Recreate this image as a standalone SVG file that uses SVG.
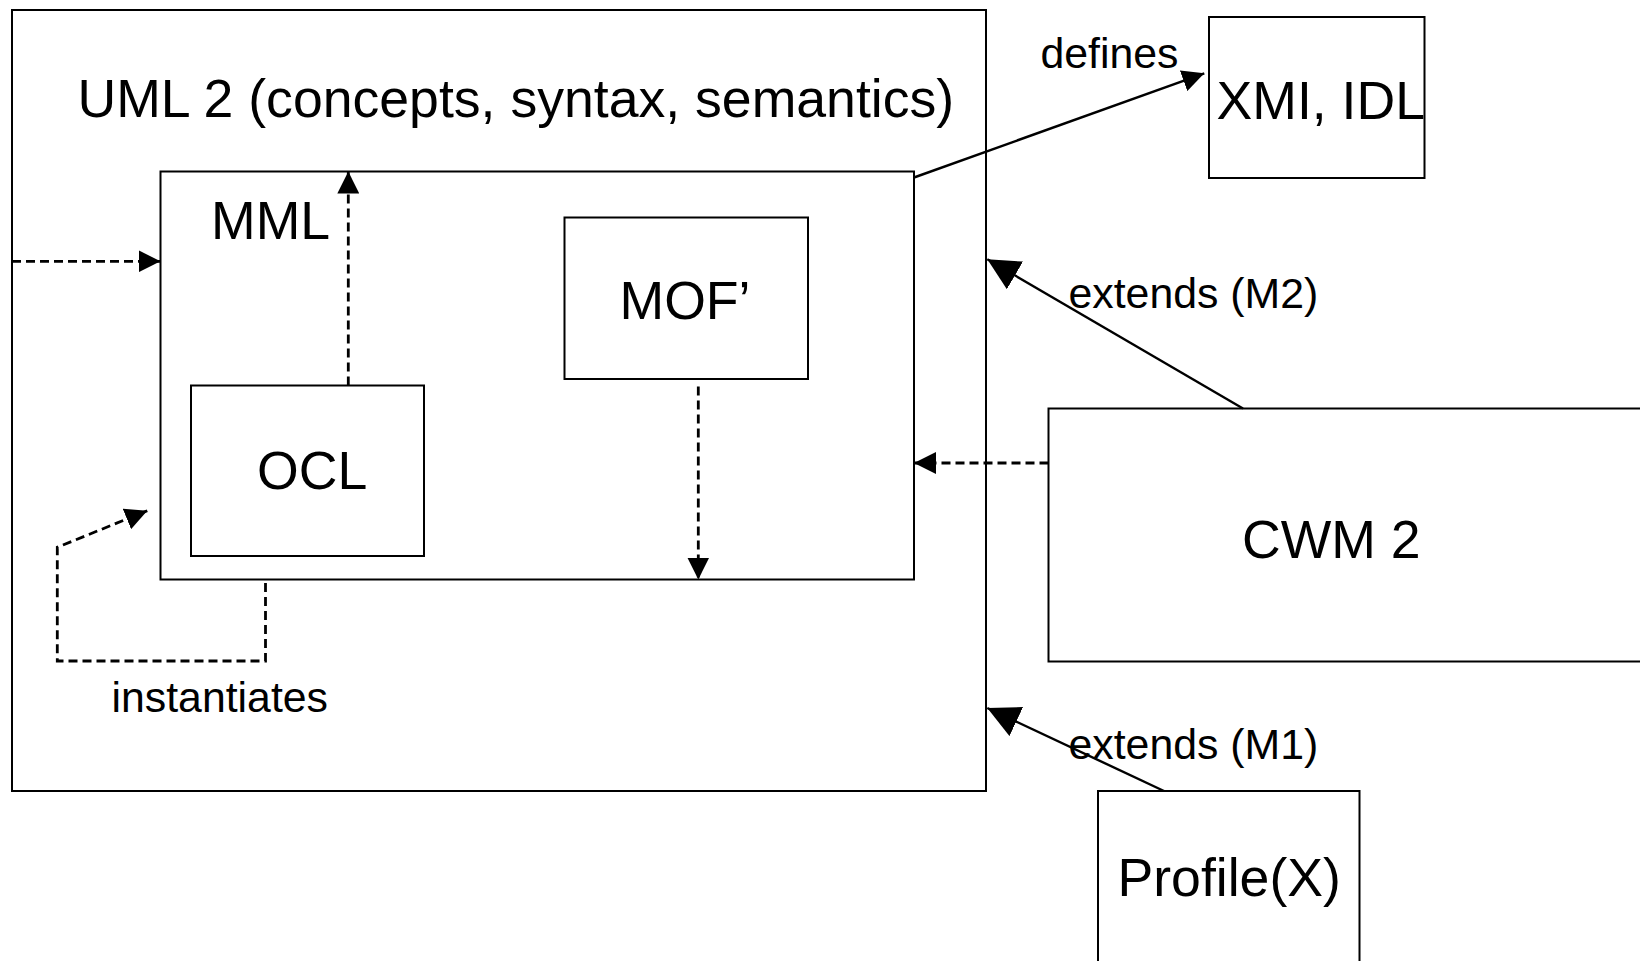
<svg xmlns="http://www.w3.org/2000/svg" width="1640" height="961" viewBox="0 0 1640 961">
<style>
.box{fill:none;stroke:#000;stroke-width:2}
.big{font-family:"Liberation Sans",Arial,sans-serif;font-size:53.6px;fill:#000}
.lbl{font-family:"Liberation Sans",Arial,sans-serif;font-size:42.8px;fill:#000}
.dash{fill:none;stroke:#000;stroke-width:2.8;stroke-dasharray:9,5}
.solid{fill:none;stroke:#000;stroke-width:2.4}
</style>
<defs>
<marker id="ah" markerUnits="userSpaceOnUse" markerWidth="22" markerHeight="22" refX="22" refY="11" orient="auto" viewBox="0 0 22 22">
<path d="M0,0 L22,11 L0,22 z" fill="#000"/>
</marker>
<marker id="ahb" markerUnits="userSpaceOnUse" markerWidth="32" markerHeight="32" refX="32" refY="16" orient="auto" viewBox="0 0 32 32">
<path d="M0,0 L32,16 L0,32 z" fill="#000"/>
</marker>
</defs>
<rect width="1640" height="961" fill="#fff"/>
<g id="uml2">
<rect class="box" x="12" y="10" width="974" height="781"/>
<text class="big" x="77.5" y="117">UML 2 (concepts, syntax, semantics)</text>
</g>
<g id="mml">
<rect class="box" x="160.5" y="171.5" width="753.5" height="408"/>
<text class="big" x="211" y="239">MML</text>
</g>
<g id="ocl">
<rect class="box" x="191" y="385.5" width="233" height="170.5"/>
<text class="big" x="257" y="489">OCL</text>
</g>
<g id="mof">
<rect class="box" x="564.5" y="217.5" width="243.5" height="161.5"/>
<text class="big" x="619.5" y="319">MOF’</text>
</g>
<g id="xmi">
<rect class="box" x="1209" y="17" width="215.5" height="161"/>
<text class="big" x="1216.5" y="119">XMI, IDL</text>
</g>
<g id="cwm">
<rect class="box" x="1048.5" y="408.5" width="700" height="253"/>
<text class="big" x="1242" y="557.5">CWM 2</text>
</g>
<g id="profile">
<rect class="box" x="1098" y="791" width="261.5" height="200"/>
<text class="big" x="1117.5" y="896">Profile(X)</text>
</g>
<g id="connectors">
<line class="dash" x1="348.3" y1="385.5" x2="348.3" y2="171.5" marker-end="url(#ah)"/>
<line class="dash" x1="12" y1="261.3" x2="160.5" y2="261.3" marker-end="url(#ah)"/>
<line class="dash" x1="698.3" y1="386.5" x2="698.3" y2="579.5" marker-end="url(#ah)"/>
<line class="dash" x1="1048.5" y1="463" x2="914" y2="463" marker-end="url(#ah)"/>
<path class="dash" d="M265.5,583 L265.5,661 L57.3,661 L57.3,547.3 L147.3,510.7" marker-end="url(#ah)"/>
<line class="solid" x1="914" y1="177.5" x2="1204.3" y2="73.3" marker-end="url(#ah)"/>
<line class="solid" x1="1243" y1="408.5" x2="987.3" y2="259.3" marker-end="url(#ahb)"/>
<line class="solid" x1="1164" y1="791" x2="987.3" y2="708" marker-end="url(#ahb)"/>
<text class="lbl" x="1040.5" y="68">defines</text>
<text class="lbl" x="1068.5" y="308">extends (M2)</text>
<text class="lbl" x="1068.5" y="759">extends (M1)</text>
<text class="lbl" x="111.5" y="712">instantiates</text>
</g>
</svg>
